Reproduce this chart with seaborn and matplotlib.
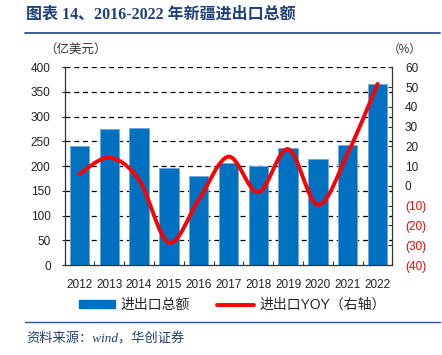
import matplotlib.pyplot as plt
import seaborn as sns
import pandas as pd
from matplotlib.path import Path
from matplotlib.patches import PathPatch, Patch
from matplotlib.lines import Line2D

# données
years = ["2012", "2013", "2014", "2015", "2016", "2017", "2018", "2019", "2020", "2021", "2022"]
trade = [241, 275, 277, 196, 180, 206, 200, 237, 214, 243, 367]   # 亿美元
yoy = [6.0, 14.3, 3.0, -28.7, -7.0, 14.8, -3.2, 18.6, -9.6, 16.5, 51.6]  # %
left_ticks = [0, 50, 100, 150, 200, 250, 300, 350, 400]
right_ticks = [60, 50, 40, 30, 20, 10, 0, -10, -20, -30, -40]

sns.set_style("white")
plt.rcParams["font.family"] = ["Liberation Sans", "Noto Sans CJK SC", "DejaVu Sans"]

BLUE = "#0070C0"
RED = "#FF0000"
NAVY = "#1F3F7A"

fig = plt.figure(figsize=(4.42, 3.55), dpi=100)
ax = fig.add_axes([0.146, 0.2535, 0.742, 0.557])

df = pd.DataFrame({"year": years, "trade": trade})
sns.barplot(data=df, x="year", y="trade", order=years, color=BLUE,
            saturation=1, width=0.65, edgecolor="#6FA8DC", linewidth=0.6,
            ax=ax, zorder=2)

ax.set_ylim(0, 400)
ax.set_xlim(-0.5, len(years) - 0.5)
ax.set_yticks(left_ticks)
ax.set_xlabel("")
ax.set_ylabel("")
for v in left_ticks[1:]:
    ax.axhline(v, color="black", lw=0.9, ls=(0, (4, 3)), zorder=1)
ax.spines["top"].set_visible(False)
ax.spines["right"].set_visible(False)
for s in ["left", "bottom"]:
    ax.spines[s].set_color("#333333")
    ax.spines[s].set_linewidth(0.9)
ax.tick_params(axis="y", direction="out", length=2, width=0.8, pad=8,
               labelsize=8.5, colors="#222222", left=True)
ax.set_xticks(range(len(years)))
ax.set_xticklabels(years)
ax.tick_params(axis="x", length=0, pad=10, labelsize=8.5, colors="#222222")
ax.set_xticks([i + 0.5 for i in range(-1, len(years))], minor=True)
ax.tick_params(axis="x", which="minor", direction="in", length=3, width=0.8,
               color="#333333", bottom=True)

# axe de droite : variation annuelle
ax2 = ax.twinx()
ax2.set_ylim(-40, 60)
ax2.set_yticks(right_ticks)
ax2.set_yticklabels([str(t) if t >= 0 else "(%d)" % -t for t in right_ticks])
for lab, t in zip(ax2.get_yticklabels(), right_ticks):
    lab.set_color(RED if t < 0 else "#222222")
ax2.tick_params(axis="y", direction="in", length=3, width=0.8, pad=9,
                labelsize=8.5, color="#333333", right=True)
for s in ["top", "left", "bottom"]:
    ax2.spines[s].set_visible(False)
ax2.spines["right"].set_color("#333333")
ax2.spines["right"].set_linewidth(0.9)

# courbe lissée (Bézier type Catmull-Rom, comme Excel)
xs = list(range(len(years)))
verts = [(xs[0], yoy[0])]
codes = [Path.MOVETO]
n = len(xs)
for i in range(n - 1):
    p0 = (xs[max(i - 1, 0)], yoy[max(i - 1, 0)])
    p1 = (xs[i], yoy[i])
    p2 = (xs[i + 1], yoy[i + 1])
    p3 = (xs[min(i + 2, n - 1)], yoy[min(i + 2, n - 1)])
    c1 = (p1[0] + (p2[0] - p0[0]) / 6, p1[1] + (p2[1] - p0[1]) / 6)
    c2 = (p2[0] - (p3[0] - p1[0]) / 6, p2[1] - (p3[1] - p1[1]) / 6)
    verts += [c1, c2, p2]
    codes += [Path.CURVE4] * 3
ax2.add_patch(PathPatch(Path(verts, codes), facecolor="none", edgecolor=RED,
                        lw=2.8, capstyle="round", zorder=3))

# titre, unités, filets et source
serif_cjk = ["Liberation Serif", "Noto Sans CJK SC", "DejaVu Sans"]
fig.text(0.059, 0.958, "图表 14、2016-2022 年新疆进出口总额", fontsize=11.5,
         fontweight="bold", color=NAVY, va="center", ha="left", family=serif_cjk)
fig.add_artist(Line2D([0.057, 0.995], [0.908, 0.908], color="#2E5597", lw=1.3))
fig.text(0.10, 0.86, "（亿美元）", fontsize=9, color="#333333", va="center", ha="left")
fig.text(0.878, 0.86, "（%）", fontsize=8.5, color="#333333", va="center", ha="left")
fig.add_artist(Line2D([0.057, 0.995], [0.094, 0.094], color="#2E5597", lw=1.0))
fig.text(0.059, 0.045, "资料来源：wind，华创证券", fontsize=9.5, style="italic",
         color=NAVY, va="center", ha="left", family=serif_cjk)

handles = [Patch(facecolor=BLUE, edgecolor=BLUE),
           Line2D([0], [0], color=RED, lw=2.8)]
fig.legend(handles, ["进出口总额", "进出口YOY（右轴）"], loc="center",
           bbox_to_anchor=(0.525, 0.141), ncol=2, frameon=False, fontsize=10,
           handlelength=2.6, handleheight=0.5, columnspacing=2.0, handletextpad=0.4)

fig.savefig("out.png", dpi=100)
